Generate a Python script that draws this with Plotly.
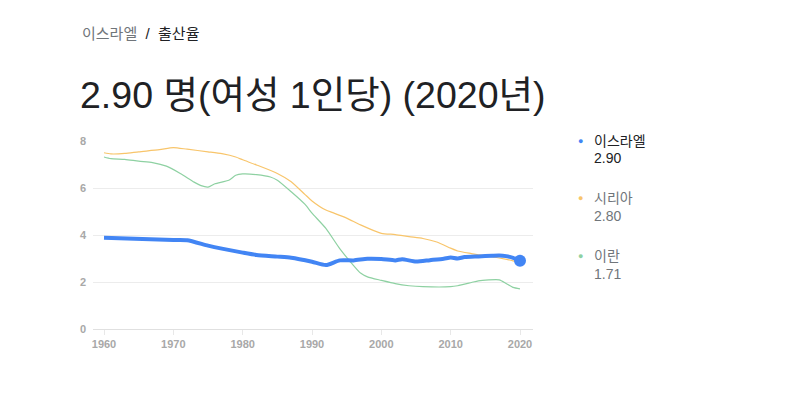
import plotly.graph_objects as go

years_isr = [1960, 1970, 1972, 1975, 1977, 1980, 1982, 1985, 1987, 1990, 1992, 1994, 1996, 1998, 2000,
             2002, 2003, 2005, 2007, 2009, 2010, 2011, 2012, 2014, 2016, 2017, 2018, 2019, 2020]
isr = [3.88, 3.79, 3.78, 3.55, 3.42, 3.25, 3.15, 3.08, 3.03, 2.86, 2.72, 2.92, 2.92, 2.99, 2.98,
       2.92, 2.97, 2.87, 2.93, 2.99, 3.04, 3.00, 3.06, 3.09, 3.12, 3.13, 3.10, 3.03, 2.90]

years_syr = [1960, 1961, 1963, 1965, 1968, 1970, 1972, 1975, 1977, 1979, 1980, 1982, 1985, 1987, 1989,
             1990, 1992, 1993, 1995, 1997, 2000, 2002, 2004, 2006, 2008, 2010, 2011, 2013, 2015, 2017,
             2019, 2020]
syr = [7.50, 7.45, 7.47, 7.54, 7.63, 7.72, 7.65, 7.54, 7.46, 7.32, 7.20, 6.98, 6.62, 6.27, 5.72,
       5.45, 5.06, 4.95, 4.72, 4.43, 4.07, 4.02, 3.93, 3.85, 3.70, 3.44, 3.32, 3.21, 3.11, 3.02,
       2.90, 2.80]

years_irn = [1960, 1961, 1963, 1965, 1967, 1969, 1971, 1973, 1974, 1975, 1976, 1978, 1979, 1980, 1982,
             1984, 1985, 1987, 1989, 1990, 1992, 1994, 1996, 1997, 1998, 2000, 2002, 2004, 2006, 2010,
             2011, 2013, 2014, 2017, 2018, 2019, 2020]
irn = [7.32, 7.25, 7.22, 7.14, 7.08, 6.93, 6.62, 6.25, 6.10, 6.04, 6.18, 6.33, 6.54, 6.60, 6.57,
       6.47, 6.33, 5.84, 5.30, 4.93, 4.28, 3.42, 2.70, 2.38, 2.22, 2.07, 1.93, 1.84, 1.80, 1.80,
       1.84, 1.98, 2.05, 2.09, 1.94, 1.77, 1.71]

x_ticks = [1960, 1970, 1980, 1990, 2000, 2010, 2020]
y_ticks = [0, 2, 4, 6, 8]

names = ["이스라엘", "시리아", "이란"]
latest = ["2.90", "2.80", "1.71"]
colors = ["#4285f4", "#f8c56b", "#8ed1a2"]

L, R, T, B = 93, 533, 140.5, 329
W, H = R - L, B - T
def px(x): return (x - L) / W
def py(y): return (B - y) / H

fig = go.Figure()
fig.add_trace(go.Scatter(x=years_irn, y=irn, mode="lines", line=dict(color=colors[2], width=1.2, shape="spline", smoothing=0.6), hoverinfo="skip"))
fig.add_trace(go.Scatter(x=years_syr, y=syr, mode="lines", line=dict(color=colors[1], width=1.2, shape="spline", smoothing=0.6), hoverinfo="skip"))
fig.add_trace(go.Scatter(x=years_isr, y=isr, mode="lines", line=dict(color=colors[0], width=4, shape="spline", smoothing=0.6), hoverinfo="skip"))
fig.add_trace(go.Scatter(x=[years_isr[-1]], y=[isr[-1]], mode="markers", marker=dict(color=colors[0], size=12), hoverinfo="skip"))

font = "Liberation Sans, Arial, Noto Sans CJK KR, sans-serif"
ann = []
ann.append(dict(x=px(80), y=py(33), xref="paper", yref="paper", xanchor="left", yanchor="middle", showarrow=False,
                text='<span style="color:#70757a">이스라엘</span><span style="color:#202124">  /  출산율</span>',
                font=dict(size=15, family=font, color="#202124")))
ann.append(dict(x=px(78), y=py(94), xref="paper", yref="paper", xanchor="left", yanchor="middle", showarrow=False,
                text="2.90 명(여성 1인당) (2020년)", font=dict(size=37.5, family=font, color="#202124")))
ys = [140, 198, 256]
for i in range(3):
    name_col = "#202124" if i == 0 else "#70757a"
    ann.append(dict(x=px(580), y=py(ys[i]), xref="paper", yref="paper", xanchor="center", yanchor="middle", showarrow=False,
                    text="●", font=dict(size=9, family=font, color=colors[i])))
    ann.append(dict(x=px(592), y=py(ys[i]), xref="paper", yref="paper", xanchor="left", yanchor="middle", showarrow=False,
                    text=names[i], font=dict(size=14, family=font, color=name_col)))
    ann.append(dict(x=px(592), y=py(ys[i] + 18), xref="paper", yref="paper", xanchor="left", yanchor="middle", showarrow=False,
                    text=latest[i], font=dict(size=14, family=font, color=name_col)))

fig.update_layout(
    width=796, height=413,
    margin=dict(l=L, r=796 - R, t=T, b=413 - B),
    paper_bgcolor="white", plot_bgcolor="white",
    showlegend=False,
    annotations=ann,
    xaxis=dict(range=[1960 - 11 / 6.933, 2020 + 13 / 6.933], tickvals=x_ticks, showgrid=False,
               showline=False, zeroline=False, ticks="outside", ticklen=5, tickcolor="#e8e8e8",
               tickfont=dict(size=11, family=font, color="#a8a8a8", weight="bold")),
    yaxis=dict(range=[0, 8], tickvals=y_ticks, showgrid=True, gridcolor="#ececec", gridwidth=1,
               zeroline=True, zerolinecolor="#e0e0e0", zerolinewidth=1, showline=False,
               ticks="", ticklabelstandoff=6,
               tickfont=dict(size=11, family=font, color="#a8a8a8", weight="bold")),
)
fig.write_html("out.html")
